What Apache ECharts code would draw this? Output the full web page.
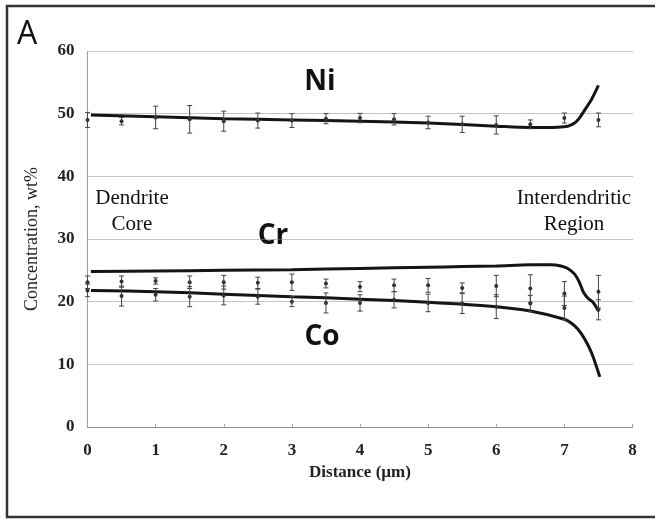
<!DOCTYPE html>
<html>
<head>
<meta charset="utf-8">
<script src="https://cdn.jsdelivr.net/npm/echarts@6/dist/echarts.min.js"></script>
<style>
  html, body { margin: 0; padding: 0; background: #fff; }
  #chart { width: 655px; height: 519px; }
</style>
</head>
<body>
<div id="chart"></div>
<script>
// Measured composition (wt%) with standard deviation, every 0.5 µm
const sampleX = [0, 0.5, 1, 1.5, 2, 2.5, 3, 3.5, 4, 4.5, 5, 5.5, 6, 6.5, 7, 7.5];
const niMean = [49.0, 48.8, 49.4, 49.1, 48.8, 48.9, 48.9, 49.2, 49.3, 49.1, 48.6, 48.3, 48.2, 48.3, 49.3, 49.0];
const niErr  = [1.2, 0.6, 1.8, 2.2, 1.6, 1.2, 1.1, 0.8, 0.75, 0.9, 1.0, 1.3, 1.45, 0.7, 0.8, 1.1];
const crMean = [23.1, 23.2, 23.3, 23.1, 23.1, 23.0, 23.1, 22.9, 22.4, 22.6, 22.6, 22.2, 22.5, 22.1, 21.3, 21.6];
const crErr  = [1.0, 0.9, 0.5, 1.0, 1.1, 0.9, 1.3, 0.7, 0.8, 1.0, 1.1, 0.8, 1.7, 2.2, 1.9, 2.6];
const coMean = [21.8, 20.9, 21.1, 20.8, 21.0, 20.8, 20.0, 19.8, 19.8, 20.3, 19.8, 19.7, 19.2, 19.7, 19.0, 18.7];
const coErr  = [1.0, 1.6, 1.0, 1.6, 1.5, 1.2, 0.8, 1.6, 1.3, 1.3, 1.4, 1.6, 1.9, 1.3, 1.9, 1.6];

// Simulated concentration profiles
const niProfileX = [0.05, 1, 2, 3, 4, 5, 6, 6.5, 6.9, 7.05, 7.15, 7.22, 7.3, 7.4, 7.5];
const niProfileY = [49.8, 49.5, 49.2, 49.0, 48.8, 48.5, 48.0, 47.8, 47.85, 48.0, 48.5, 49.3, 50.6, 52.3, 54.5];
const crProfileX = [0.05, 1, 2, 3, 4, 5, 5.5, 6, 6.5, 6.8, 6.95, 7.05, 7.15, 7.22, 7.28, 7.35, 7.42, 7.5];
const crProfileY = [24.8, 24.9, 25.0, 25.1, 25.3, 25.5, 25.6, 25.7, 25.9, 25.9, 25.7, 25.3, 24.4, 23.1, 21.5, 20.5, 19.9, 18.5];
const coProfileX = [0.05, 1, 2, 3, 4, 5, 6, 6.5, 7.0, 7.1, 7.2, 7.3, 7.4, 7.52];
const coProfileY = [21.8, 21.6, 21.2, 20.8, 20.4, 19.9, 19.2, 18.5, 17.2, 16.6, 15.6, 14.0, 11.8, 8.0];

const xTicks = [0, 1, 2, 3, 4, 5, 6, 7, 8];
const yTicks = [0, 10, 20, 30, 40, 50, 60];

const serif = '"Liberation Serif", "DejaVu Serif", serif';
const sans = '"Open Sans", "Liberation Sans", sans-serif';

function zip(xs, ys) { return xs.map((x, i) => [x, ys[i]]); }
function zip3(xs, ys, es) { return xs.map((x, i) => [x, ys[i], es[i]]); }

function errorBarItem(params, api) {
  const x = api.value(0), y = api.value(1), e = api.value(2);
  const top = api.coord([x, y + e]);
  const bot = api.coord([x, y - e]);
  const mid = api.coord([x, y]);
  const cap = 2.5;
  const style = { stroke: '#444', lineWidth: 1, fill: null };
  return {
    type: 'group',
    children: [
      { type: 'line', shape: { x1: top[0], y1: top[1], x2: bot[0], y2: bot[1] }, style },
      { type: 'line', shape: { x1: top[0] - cap, y1: top[1], x2: top[0] + cap, y2: top[1] }, style },
      { type: 'line', shape: { x1: bot[0] - cap, y1: bot[1], x2: bot[0] + cap, y2: bot[1] }, style },
      { type: 'circle', shape: { cx: mid[0], cy: mid[1], r: 2 }, style: { fill: '#333' } }
    ]
  };
}

function profileSeries(xs, ys) {
  return {
    type: 'line',
    data: zip(xs, ys),
    showSymbol: false,
    smooth: 0.3,
    lineStyle: { color: '#151515', width: 3 },
    silent: true,
    z: 3
  };
}

function errorSeries(ms, es) {
  return {
    type: 'custom',
    data: zip3(sampleX, ms, es),
    renderItem: errorBarItem,
    encode: { x: 0, y: 1 },
    silent: true,
    z: 4
  };
}

const chart = echarts.init(document.getElementById('chart'), null, { renderer: 'canvas' });

chart.setOption({
  animation: false,
  backgroundColor: '#fff',
  grid: { left: 87.5, right: 22.5, top: 51, bottom: 92 },
  xAxis: {
    type: 'value',
    min: xTicks[0], max: xTicks[xTicks.length - 1], interval: 1,
    name: 'Distance (µm)',
    nameLocation: 'middle',
    nameGap: 33,
    nameTextStyle: { fontFamily: serif, fontSize: 17, fontWeight: 'bold', color: '#222' },
    axisLine: { show: true, lineStyle: { color: '#888', type: 'dotted', width: 1 } },
    axisTick: { show: true, inside: true, length: 3, lineStyle: { color: '#aaa' } },
    axisLabel: { fontFamily: serif, fontSize: 17, fontWeight: 'bold', color: '#222', margin: 15 },
    splitLine: { show: false }
  },
  yAxis: {
    type: 'value',
    min: yTicks[0], max: yTicks[yTicks.length - 1], interval: 10,
    name: 'Concentration, wt%',
    nameLocation: 'middle',
    nameGap: 46,
    nameTextStyle: { fontFamily: serif, fontSize: 18, color: '#222' },
    axisLine: { show: true, lineStyle: { color: '#888', type: 'dotted', width: 1 } },
    axisTick: { show: false },
    axisLabel: { fontFamily: serif, fontSize: 17, fontWeight: 'bold', color: '#222', margin: 13 },
    splitLine: { show: true, lineStyle: { color: '#888', type: 'dotted', width: 1 } }
  },
  series: [
    profileSeries(niProfileX, niProfileY),
    profileSeries(crProfileX, crProfileY),
    profileSeries(coProfileX, coProfileY),
    errorSeries(niMean, niErr),
    errorSeries(crMean, crErr),
    errorSeries(coMean, coErr)
  ],
  graphic: [
    {
      type: 'rect', silent: true,
      shape: { x: 7, y: 6, width: 660, height: 511 },
      style: { fill: null, stroke: '#333', lineWidth: 2.5 }
    },
    {
      type: 'text', left: 17, top: 19,
      style: { text: 'A', font: '32px ' + sans, fill: '#111' }
    },
    {
      type: 'text', x: 320, y: 82,
      style: { text: 'Ni', font: 'bold 28px ' + sans, fill: '#111', align: 'center', verticalAlign: 'middle' }
    },
    {
      type: 'text', x: 273, y: 236,
      style: { text: 'Cr', font: 'bold 28px ' + sans, fill: '#111', align: 'center', verticalAlign: 'middle' }
    },
    {
      type: 'text', x: 322, y: 337,
      style: { text: 'Co', font: 'bold 28px ' + sans, fill: '#111', align: 'center', verticalAlign: 'middle' }
    },
    {
      type: 'text', x: 132, y: 211,
      style: { text: 'Dendrite\nCore', font: '21px ' + serif, lineHeight: 26, fill: '#111', align: 'center', verticalAlign: 'middle' }
    },
    {
      type: 'text', x: 574, y: 211,
      style: { text: 'Interdendritic\nRegion', font: '21px ' + serif, lineHeight: 26, fill: '#111', align: 'center', verticalAlign: 'middle' }
    }
  ]
});
</script>
</body>
</html>
